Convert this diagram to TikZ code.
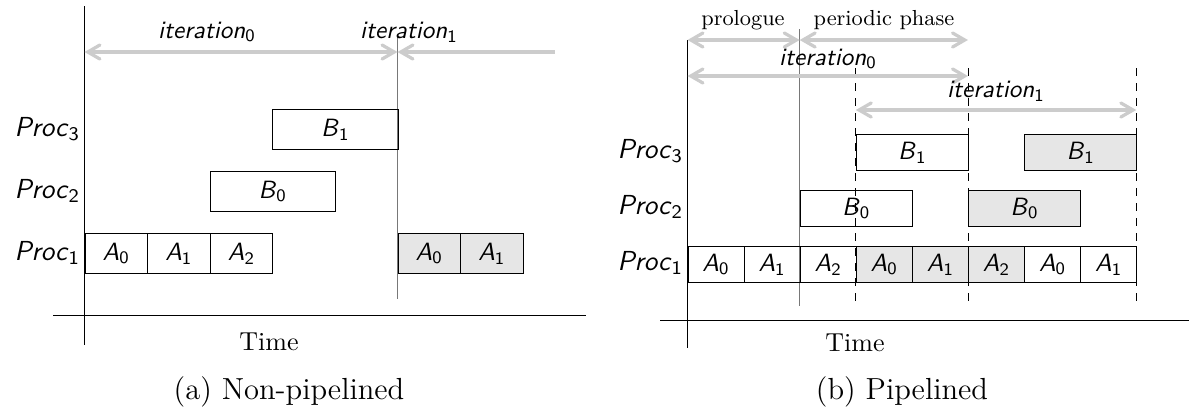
\documentclass[tikz,border=0pt]{standalone}
\usepackage{tikz}
\usetikzlibrary{arrows}
\usepackage{color}
\definecolor{BoxFill}{RGB}{230,230,230}
\definecolor{IterArrow}{RGB}{204,204,204}
\definecolor{IterLine}{RGB}{120,120,120}
\newcommand{\sv}[2]{\textsf{\itshape #1}\textsubscript{\textsf{#2}}}

\begin{document}
\begin{tikzpicture}[x=0.4pt, y=-0.4pt]
    \tikzset{ cell/.style ={draw=black, anchor=north west, inner sep=0pt, minimum height=#1} }
    \tikzset{ lcell/.style ={cell=16pt, minimum width=25.04pt} }
    \tikzset{ lwide/.style ={cell=16pt, minimum width=50.08pt} }
    \tikzset{ rcell/.style ={cell=14.4pt, minimum width=22.44pt} }
    \tikzset{ rwide/.style ={cell=14.4pt, minimum width=44.88pt} }
    \tikzset{ done/.style ={fill=BoxFill} }
    \tikzset{ proc/.style ={anchor=east, inner sep=1pt, font=\fontsize{11}{13}\selectfont} }
    \tikzset{ phase/.style ={font=\fontsize{8.7}{10}\selectfont} }
    \tikzset{ axis/.style ={font=\fontsize{10.4}{12}\selectfont} }
    \tikzset{ caption/.style ={font=\fontsize{12.2}{14}\selectfont} }
    \tikzset{ iter/.style ={draw=IterArrow, line width=1.3pt, >=angle 60} }
    \useasboundingbox (0,0) rectangle (1189,408);

    % (a) non-pipelined
    \coordinate (a_top) at (84.5, 6);
    \coordinate (a_bot) at (84.5, 345);
    \coordinate (a_left) at (53, 315);
    \coordinate (a_right) at (586, 315);
    \coordinate (a_cut_top) at (397.5, 37);
    \coordinate (a_cut_bot) at (397.5, 299);
    \coordinate (a_it0_s) at (84.5, 52);
    \coordinate (a_it0_e) at (397.5, 52);
    \coordinate (a_it1_e) at (555, 52);

    \draw (a_top) -- (a_bot);
    \draw (a_left) -- (a_right);
    \draw[IterLine, line width=0.6pt] (a_cut_top) -- (a_cut_bot);
    \draw[iter, <->] (a_it0_s) -- (a_it0_e);
    \draw[iter, <-] (a_it0_e) -- (a_it1_e);
    \node (a_it0) at (207, 32) {\sv{iteration}{0}};
    \node (a_it1) at (409, 32) {\sv{iteration}{1}};

    \node[proc] (a_p3) at (83, 129) {\sv{Proc}{3}};
    \node[proc] (a_p2) at (83, 191) {\sv{Proc}{2}};
    \node[proc] (a_p1) at (83, 253) {\sv{Proc}{1}};

    \node[lcell] (a_a0) at (84.5, 233) {\sv{A}{0}};
    \node[lcell] (a_a1) at (147.1, 233) {\sv{A}{1}};
    \node[lcell] (a_a2) at (209.7, 233) {\sv{A}{2}};
    \node[lwide] (a_b0) at (209.7, 171) {\sv{B}{0}};
    \node[lwide] (a_b1) at (272.3, 109) {\sv{B}{1}};
    \node[lcell, done] (a_a0n) at (397.5, 233) {\sv{A}{0}};
    \node[lcell, done] (a_a1n) at (460.1, 233) {\sv{A}{1}};

    \node[axis] (a_time) at (269, 342) {Time};
    \node[caption] (a_cap) at (289, 392) {(a) Non-pipelined};

    % (b) pipelined
    \coordinate (b_top) at (687.5, 40);
    \coordinate (b_bot) at (687.5, 348);
    \coordinate (b_left) at (660, 320);
    \coordinate (b_right) at (1189, 320);
    \coordinate (b_cut_top) at (799.7, 29);
    \coordinate (b_cut_bot) at (799.7, 306);
    \coordinate (b_pro_s) at (687.5, 40);
    \coordinate (b_pro_e) at (799.7, 40);
    \coordinate (b_per_e) at (968, 40);
    \coordinate (b_it0_s) at (687.5, 76);
    \coordinate (b_it0_e) at (968, 76);
    \coordinate (b_it1_s) at (855.8, 110);
    \coordinate (b_it1_e) at (1136.3, 110);

    \draw (b_top) -- (b_bot);
    \draw (b_left) -- (b_right);
    \draw[IterLine, line width=0.6pt] (b_cut_top) -- (b_cut_bot);
    \foreach \xx in {855.8, 968, 1136.3}
        \draw[dashed] (\xx, 68) -- (\xx, 306);
    \draw[iter, <->] (b_pro_s) -- (b_pro_e);
    \draw[iter, <->] (b_pro_e) -- (b_per_e);
    \draw[iter, <->] (b_it0_s) -- (b_it0_e);
    \draw[iter, <->] (b_it1_s) -- (b_it1_e);
    \node[phase] (b_pro) at (743, 20) {prologue};
    \node[phase] (b_per) at (884, 20) {periodic phase};
    \node (b_it0) at (828, 59) {\sv{iteration}{0}};
    \node (b_it1) at (996, 91) {\sv{iteration}{1}};

    \node[proc] (b_p3) at (686, 151) {\sv{Proc}{3}};
    \node[proc] (b_p2) at (686, 207) {\sv{Proc}{2}};
    \node[proc] (b_p1) at (686, 263) {\sv{Proc}{1}};

    \node[rcell] (b_a0) at (687.5, 246) {\sv{A}{0}};
    \node[rcell] (b_a1) at (743.6, 246) {\sv{A}{1}};
    \node[rcell] (b_a2) at (799.7, 246) {\sv{A}{2}};
    \node[rcell, done] (b_a0n) at (855.8, 246) {\sv{A}{0}};
    \node[rcell, done] (b_a1n) at (911.9, 246) {\sv{A}{1}};
    \node[rcell, done] (b_a2n) at (968, 246) {\sv{A}{2}};
    \node[rcell] (b_a0m) at (1024.1, 246) {\sv{A}{0}};
    \node[rcell] (b_a1m) at (1080.2, 246) {\sv{A}{1}};
    \node[rwide] (b_b0) at (799.7, 190) {\sv{B}{0}};
    \node[rwide, done] (b_b0n) at (968, 190) {\sv{B}{0}};
    \node[rwide] (b_b1) at (855.8, 134) {\sv{B}{1}};
    \node[rwide, done] (b_b1n) at (1024.1, 134) {\sv{B}{1}};

    \node[axis] (b_time) at (855, 343) {Time};
    \node[caption] (b_cap) at (902, 392) {(b) Pipelined};
\end{tikzpicture}
\end{document}
